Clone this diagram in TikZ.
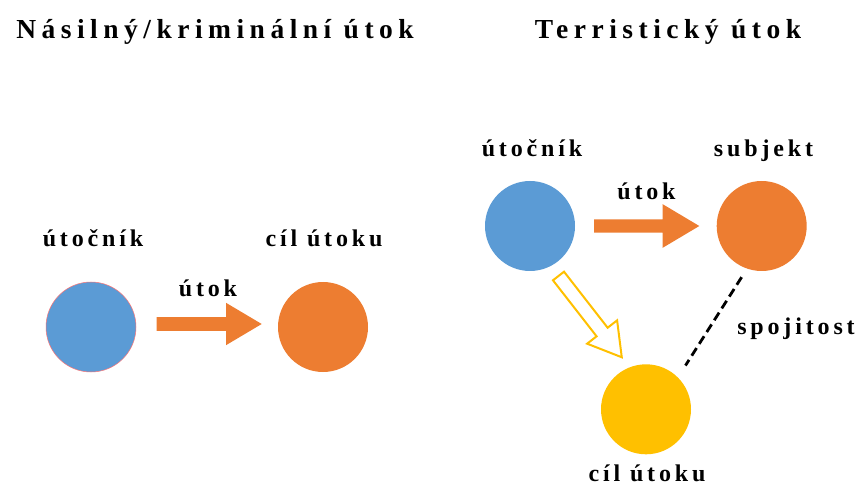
\documentclass[tikz,border=0pt]{standalone}
\usepackage{fontspec}
\setmainfont{Liberation Serif}
\newfontfamily\titlefont[LetterSpace=20]{Liberation Serif}
\newfontfamily\labfont[LetterSpace=16]{Liberation Serif}
\definecolor{cblue}{HTML}{5B9BD5}
\definecolor{corange}{HTML}{ED7D31}
\definecolor{cyellow}{HTML}{FFC000}
\begin{document}
\begin{tikzpicture}[x=1pt,y=-1pt,
  ttl/.style={anchor=base,inner sep=0pt,font=\titlefont\bfseries\fontsize{27.5}{30}\selectfont},
  lab/.style={anchor=base,inner sep=0pt,font=\labfont\bfseries\fontsize{24}{28}\selectfont},
  circ/.style={circle,minimum size=90pt,inner sep=0pt},
  blockarrow/.style={fill=corange,draw=none}]
\useasboundingbox (0,0) rectangle (859,486);
% titles
\node[ttl] (t1) at (215,38.3) {Násilný/kriminální útok};
\node[ttl] (t2) at (668,38.3) {Terristický útok};
% left diagram
\node[circ,fill=cblue,draw=red!55,line width=0.5pt] (a1) at (91,327) {};
\node[circ,fill=corange] (c1) at (323,327) {};
\node[lab] (la1) at (93,246.7) {útočník};
\node[lab] (lc1) at (324,246.7) {cíl útoku};
\node[lab] (lu1) at (208,296.7) {útok};
\begin{scope}[shift={(156.7,324)}]
\fill[corange] (0,-6.8) -- (69.3,-6.8) -- (69.3,-21.2) -- (105,0) -- (69.3,21.2) -- (69.3,6.8) -- (0,6.8) -- cycle;
\end{scope}
% right diagram
\node[circ,fill=cblue] (a2) at (530,226) {};
\node[circ,fill=corange] (s2) at (761.7,226) {};
\node[circ,fill=cyellow] (c2) at (646,409.3) {};
\node[lab] (la2) at (532,156.7) {útočník};
\node[lab] (ls2) at (763.5,156.7) {subjekt};
\node[lab] (lu2) at (646.5,200) {útok};
\node[lab] (lc2) at (647,481.7) {cíl útoku};
\node[lab] (lsp) at (796,334) {spojitost};
\begin{scope}[shift={(594,226)}]
\fill[corange] (0,-6.7) -- (68.7,-6.7) -- (68.7,-21.8) -- (105.3,0) -- (68.7,21.8) -- (68.7,6.7) -- (0,6.7) -- cycle;
\end{scope}
\begin{scope}[shift={(558.5,276)},rotate=-52.1]
\draw[cyellow,line width=2pt,fill=white,line join=miter] (0,-7) -- (71,-7) -- (71,-19) -- (103,0) -- (71,19) -- (71,7) -- (0,7) -- cycle;
\end{scope}
\draw[line width=2.8pt,dash pattern=on 9pt off 5pt,shorten <=10pt,shorten >=14pt,xshift=2.5pt] (s2.251) -- (c2.45);
\end{tikzpicture}
\end{document}
